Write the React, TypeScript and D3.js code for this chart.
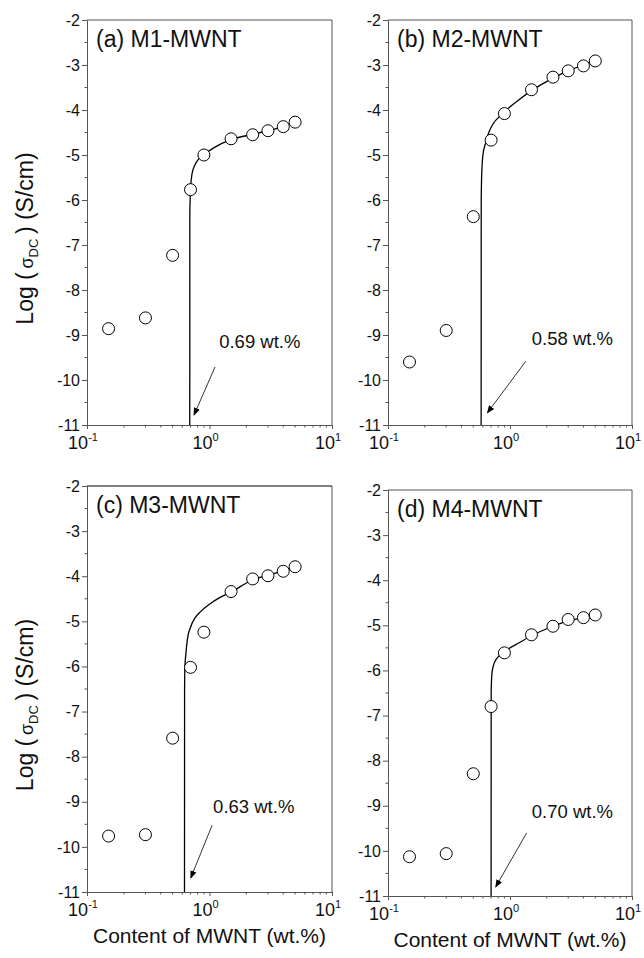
import React, { useEffect, useRef } from "react";
import * as d3 from "d3";

// MWNT content (wt.%) for the measured samples
const contents = [0.15, 0.3, 0.5, 0.7, 0.9, 1.5, 2.25, 3, 4, 5];

// log(sigma_DC)
const logM1 = [-8.86, -8.62, -7.23, -5.77, -5.0, -4.64, -4.55, -4.46, -4.37, -4.27];
const logM2 = [-9.6, -8.9, -6.37, -4.67, -4.08, -3.55, -3.27, -3.13, -3.02, -2.91];
const logM3 = [-9.76, -9.73, -7.59, -6.02, -5.24, -4.34, -4.06, -3.99, -3.89, -3.79];
const logM4 = [-10.13, -10.06, -8.29, -6.8, -5.61, -5.21, -5.02, -4.87, -4.83, -4.77];

// fitted percolation curves
const fitM1X = [0.69, 0.691, 0.695, 0.7, 0.72, 0.76, 0.82, 0.9, 1.1, 1.5, 2.25, 3, 4, 5];
const fitM1Y = [-11, -6.3, -6.0, -5.75, -5.42, -5.22, -5.08, -4.99, -4.83, -4.66, -4.54, -4.46, -4.37, -4.28];
const fitM2X = [0.58, 0.581, 0.584, 0.59, 0.6, 0.63, 0.67, 0.73, 0.83, 0.95, 1.2, 1.5, 2.25, 3, 4, 5];
const fitM2Y = [-11, -6.0, -5.6, -5.25, -5.0, -4.74, -4.5, -4.3, -4.13, -3.98, -3.76, -3.57, -3.29, -3.13, -3.0, -2.91];
const fitM3X = [0.625, 0.626, 0.63, 0.64, 0.66, 0.7, 0.76, 0.85, 1.0, 1.2, 1.5, 2.25, 3, 4, 5];
const fitM3Y = [-11, -6.5, -6.0, -5.75, -5.4, -5.13, -4.93, -4.78, -4.62, -4.48, -4.35, -4.08, -3.98, -3.88, -3.79];
const fitM4X = [0.7, 0.701, 0.705, 0.71, 0.73, 0.76, 0.8, 0.9, 1.2, 1.5, 2.25, 3, 4, 5];
const fitM4Y = [-11, -6.5, -6.25, -6.08, -5.9, -5.78, -5.7, -5.58, -5.38, -5.23, -5.02, -4.9, -4.83, -4.77];

const panelTitles = ["(a) M1-MWNT", "(b) M2-MWNT", "(c) M3-MWNT", "(d) M4-MWNT"];
const thresholdLabels = ["0.69 wt.%", "0.58 wt.%", "0.63 wt.%", "0.70 wt.%"];
// annotation text anchor and arrow start/end, in data units [x, y]
const labelPos = [[1.2, -9.29], [1.51, -9.22], [1.07, -9.25], [1.51, -9.27]];
const arrowFrom = [[1.11, -9.71], [1.35, -9.58], [1.05, -9.52], [1.37, -9.6]];
const arrowTo = [[0.747, -10.78], [0.652, -10.73], [0.703, -10.69], [0.763, -10.8]];

const yTicks = [-11, -10, -9, -8, -7, -6, -5, -4, -3, -2];
const xTickExp = [-1, 0, 1];

const font = "'Liberation Sans', Arial, sans-serif";

const panels = [
  { left: 87, right: 332, top: 20, bottom: 425, y: logM1, fx: fitM1X, fy: fitM1Y, yLabel: true, xLabel: false },
  { left: 388, right: 632, top: 20, bottom: 425, y: logM2, fx: fitM2X, fy: fitM2Y, yLabel: false, xLabel: false },
  { left: 87, right: 332, top: 486, bottom: 892, y: logM3, fx: fitM3X, fy: fitM3Y, yLabel: true, xLabel: true },
  { left: 388, right: 632, top: 490, bottom: 896, y: logM4, fx: fitM4X, fy: fitM4Y, yLabel: false, xLabel: true },
];

export default function App() {
  const ref = useRef<SVGSVGElement>(null);

  useEffect(() => {
    const svg = d3.select(ref.current);
    svg.selectAll("*").remove();

    const defs = svg.append("defs");
    defs.append("marker").attr("id", "arr").attr("viewBox", "0 0 10 10").attr("refX", 9).attr("refY", 5)
      .attr("markerWidth", 8).attr("markerHeight", 8).attr("markerUnits", "userSpaceOnUse").attr("orient", "auto")
      .append("path").attr("d", "M0,1 L10,5 L0,9 Z").attr("fill", "#000");

    panels.forEach((p, i) => {
      const x = d3.scaleLog().domain([0.1, 10]).range([p.left, p.right]);
      const y = d3.scaleLinear().domain([-11, -2]).range([p.bottom, p.top]);
      const g = svg.append("g");
      const axisColor = "#555";

      // frame
      g.append("line").attr("x1", p.left).attr("x2", p.right).attr("y1", p.top).attr("y2", p.top)
        .attr("stroke", i === 2 ? "#000" : axisColor).attr("stroke-width", 1);
      g.append("line").attr("x1", p.right).attr("x2", p.right).attr("y1", p.top).attr("y2", p.bottom)
        .attr("stroke", axisColor).attr("stroke-width", 1);

      // y axis
      const yAxis = d3.axisLeft(y).tickValues(yTicks).tickFormat((d) => String(d)).tickSize(5).tickPadding(2);
      const ya = g.append("g").attr("transform", `translate(${p.left},0)`).call(yAxis);
      ya.select(".domain").attr("stroke", axisColor);
      ya.selectAll(".tick line").attr("stroke", axisColor);
      ya.selectAll("text").attr("font-family", font).attr("font-size", 16).attr("fill", "#111");
      const yMinor = d3.range(-10.5, -2, 1);
      g.selectAll(".ymin").data(yMinor).join("line").attr("x1", p.left - 2.5).attr("x2", p.left)
        .attr("y1", (d) => y(d)).attr("y2", (d) => y(d)).attr("stroke", axisColor);

      // x axis
      const xMajor = xTickExp.map((e) => Math.pow(10, e));
      const xAxis = d3.axisBottom(x).tickValues(xMajor).tickFormat(() => "").tickSize(4);
      const xa = g.append("g").attr("transform", `translate(0,${p.bottom})`).call(xAxis);
      xa.select(".domain").attr("stroke", axisColor);
      xa.selectAll(".tick line").attr("stroke", axisColor);
      const xMinor = x.ticks().filter((v) => !xMajor.some((m) => Math.abs(m - v) < 1e-9));
      g.selectAll(".xmin").data(xMinor).join("line").attr("x1", (d) => x(d)).attr("x2", (d) => x(d))
        .attr("y1", p.bottom).attr("y2", p.bottom + 2.5).attr("stroke", axisColor);
      const xl = g.selectAll(".xlab").data(xTickExp).join("text")
        .attr("x", (e) => x(Math.pow(10, e)) - 4).attr("y", p.bottom + 24)
        .attr("text-anchor", "middle").attr("font-family", font).attr("font-size", 18).attr("fill", "#111");
      xl.append("tspan").text("10");
      xl.append("tspan").attr("dy", -8).attr("font-size", 11).text((e) => String(e));

      // fit line
      const fitPts = p.fx.map((v, k) => [v, p.fy[k]] as [number, number]);
      const line = d3.line<[number, number]>().x((d) => x(d[0])).y((d) => y(d[1])).curve(d3.curveMonotoneX);
      g.append("path").attr("d", line(fitPts)).attr("fill", "none").attr("stroke", "#000").attr("stroke-width", 1.3);

      // points
      g.selectAll(".pt").data(contents.map((c, k) => [c, p.y[k]])).join("circle")
        .attr("cx", (d) => x(d[0])).attr("cy", (d) => y(d[1])).attr("r", 6)
        .attr("fill", "#fff").attr("stroke", "#000").attr("stroke-width", 1);

      // title
      g.append("text").attr("x", p.left + 9).attr("y", p.top + 27).attr("font-family", font)
        .attr("font-size", 23).attr("fill", "#111").text(panelTitles[i]);

      // threshold annotation
      g.append("text").attr("x", x(labelPos[i][0])).attr("y", y(labelPos[i][1])).attr("font-family", font)
        .attr("font-size", 18.5).attr("fill", "#111").text(thresholdLabels[i]);
      g.append("line").attr("x1", x(arrowFrom[i][0])).attr("y1", y(arrowFrom[i][1]))
        .attr("x2", x(arrowTo[i][0])).attr("y2", y(arrowTo[i][1]))
        .attr("stroke", "#000").attr("stroke-width", 0.8).attr("marker-end", "url(#arr)");

      if (p.yLabel) {
        const cy = (p.top + p.bottom) / 2 + 16;
        const t = g.append("text").attr("transform", `translate(33,${cy}) rotate(-90)`)
          .attr("text-anchor", "middle").attr("font-family", font).attr("font-size", 23).attr("fill", "#111");
        t.append("tspan").text("Log (");
        t.append("tspan").attr("font-size", 18).text("\u2009\u03c3");
        t.append("tspan").attr("font-size", 13).attr("dy", 5).text("DC");
        t.append("tspan").attr("dy", -5).text("\u2009) (S/cm)");
      }
      if (p.xLabel) {
        g.append("text").attr("x", (p.left + p.right) / 2).attr("y", p.bottom + 51)
          .attr("text-anchor", "middle").attr("font-family", font).attr("font-size", 21).attr("fill", "#111")
          .text("Content of MWNT (wt.%)");
      }
    });
  }, []);

  return (
    <svg ref={ref} width={644} height={958} style={{ position: "absolute", left: 0, top: 0, background: "#fff" }} />
  );
}
